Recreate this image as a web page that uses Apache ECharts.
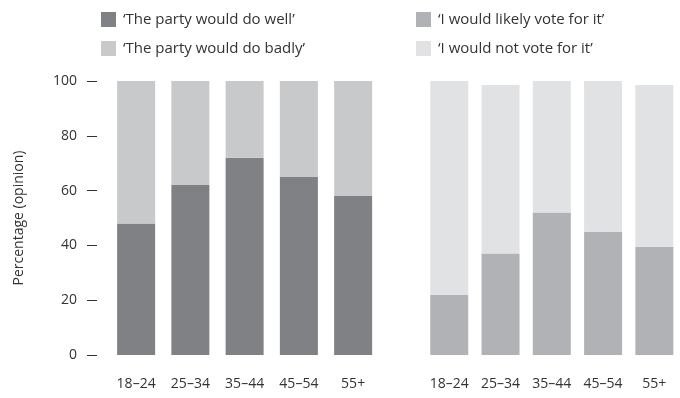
<!DOCTYPE html>
<html><head><meta charset="utf-8">
<script src="https://cdn.jsdelivr.net/npm/echarts@6/dist/echarts.min.js"></script>
<style>html,body{margin:0;padding:0;background:#fff}#c{width:680px;height:398px}</style>
</head><body><div id="c"></div>
<script>
var categories = ['18–24', '25–34', '35–44', '45–54', '55+'];
var doWell = [48, 62, 72, 65, 58];
var doBadly = [52, 38, 28, 35, 42];
var likelyVote = [22, 37, 52, 45, 39.5];
var notVote = [78, 61.5, 48, 55, 59];
var yTicks = [0, 20, 40, 60, 80, 100];

var font = '"Open Sans", "Noto Sans", sans-serif';
var txt = '#333';
var chart = echarts.init(document.getElementById('c'), null, {renderer: 'canvas'});
chart.setOption({
  animation: false,
  textStyle: {fontFamily: font},
  legend: [
    {left: 96, top: 7, orient: 'vertical', itemWidth: 15, itemHeight: 15, itemGap: 14,
     icon: 'rect', textStyle: {fontSize: 15, color: txt, fontFamily: font, padding: [0, 0, 0, 2]},
     data: ['‘The party would do well’', '‘The party would do badly’']},
    {left: 411, top: 7, orient: 'vertical', itemWidth: 15, itemHeight: 15, itemGap: 14,
     icon: 'rect', textStyle: {fontSize: 15, color: txt, fontFamily: font, padding: [0, 0, 0, 2]},
     data: ['‘I would likely vote for it’', '‘I would not vote for it’']}
  ],
  grid: [
    {left: 109, top: 81, width: 271.25, height: 274},
    {left: 423.6, top: 81, width: 263.75, height: 274}
  ],
  xAxis: [
    {type: 'category', gridIndex: 0, data: categories, axisLine: {show: false}, axisTick: {show: false},
     axisLabel: {margin: 22, fontSize: 14, color: txt, fontFamily: font}},
    {type: 'category', gridIndex: 1, data: categories, axisLine: {show: false}, axisTick: {show: false},
     axisLabel: {margin: 22, fontSize: 14, color: txt, fontFamily: font}}
  ],
  yAxis: [
    {type: 'value', gridIndex: 0, min: yTicks[0], max: yTicks[yTicks.length - 1], interval: 20, offset: 12,
     axisLine: {show: false}, splitLine: {show: false},
     axisTick: {show: true, length: 10, lineStyle: {color: '#333', width: 1}},
     axisLabel: {margin: 20, fontSize: 14, color: txt, fontFamily: font},
     name: 'Percentage (opinion)', nameLocation: 'middle', nameGap: 71,
     nameTextStyle: {fontSize: 14, color: txt, fontFamily: font}},
    {type: 'value', gridIndex: 1, min: 0, max: 100, show: false}
  ],
  series: [
    {name: '‘The party would do well’', type: 'bar', stack: 'a', xAxisIndex: 0, yAxisIndex: 0,
     barWidth: 38, data: doWell, itemStyle: {color: '#808184'}},
    {name: '‘The party would do badly’', type: 'bar', stack: 'a', xAxisIndex: 0, yAxisIndex: 0,
     barWidth: 38, data: doBadly, itemStyle: {color: '#c8c9cb'}},
    {name: '‘I would likely vote for it’', type: 'bar', stack: 'b', xAxisIndex: 1, yAxisIndex: 1,
     barWidth: 38, data: likelyVote, itemStyle: {color: '#b1b2b5'}},
    {name: '‘I would not vote for it’', type: 'bar', stack: 'b', xAxisIndex: 1, yAxisIndex: 1,
     barWidth: 38, data: notVote, itemStyle: {color: '#e1e2e4'}}
  ]
});
</script></body></html>
